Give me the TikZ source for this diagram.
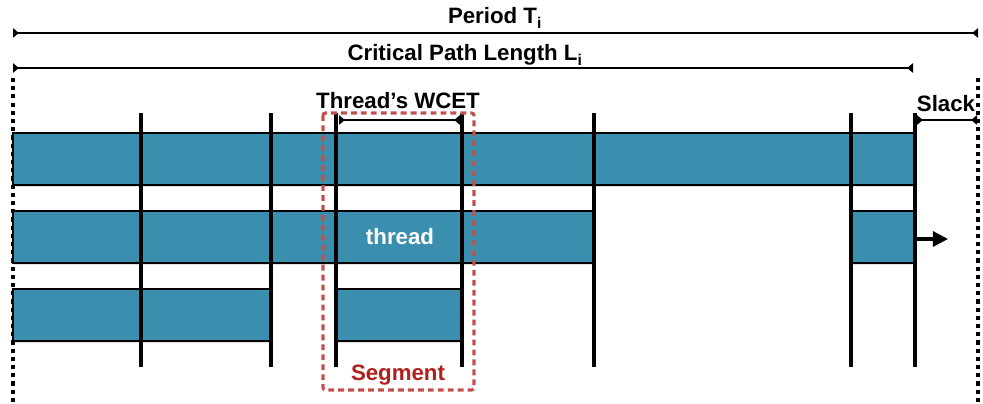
\documentclass[tikz,border=0pt]{standalone}
\usepackage{fontspec}
\setmainfont{Liberation Sans}
\definecolor{ThreadTeal}{HTML}{3A8FAE}
\definecolor{SegRed}{HTML}{C4504E}
\definecolor{SegText}{HTML}{B0201C}
\usetikzlibrary{
  arrows.meta,
  positioning,
  shadows
}

\begin{document}
\begin{tikzpicture}[
  x=0.03cm, y=-0.03cm,
  bar/.style={
    fill=ThreadTeal, draw=black, line width=1.2pt,
    drop shadow={shadow xshift=1pt, shadow yshift=-1.5pt, opacity=0.25}
  },
  txt/.style={font=\fontsize{19}{22}\selectfont\bfseries},
  span/.style={line width=1.3pt, {Triangle[reversed, length=5pt, width=8pt]}-{Triangle[reversed, length=5pt, width=8pt]}},
  segline/.style={line width=2.6pt},
  boundline/.style={line width=2.6pt, dash pattern=on 3.5pt off 3.5pt}
]
  \useasboundingbox (0,0) rectangle (983,404);

  % Period and critical path spans
  \coordinate (periodL) at (13,33);
  \coordinate (periodR) at (978,33);
  \coordinate (critL) at (13,68);
  \coordinate (critR) at (913,68);
  \draw[span] (periodL) -- (periodR);
  \draw[span] (critL) -- (critR);
  \node[txt] (period) at (495,18) {Period T\textsubscript{i}};
  \node[txt] (crit) at (465,55) {Critical Path Length L\textsubscript{i}};

  % Period boundaries (dashed)
  \coordinate (leftTop) at (13,78);
  \coordinate (leftBot) at (13,404);
  \coordinate (rightTop) at (978,78);
  \coordinate (rightBot) at (978,404);
  \draw[boundline] (leftTop) -- (leftBot);
  \draw[boundline] (rightTop) -- (rightBot);

  % Thread bars, row 1
  \filldraw[bar] (13,133) rectangle (915,185);

  % Row 2
  \filldraw[bar] (13,211) rectangle (593,263);
  \filldraw[bar] (852,211) rectangle (915,263);

  % Row 3
  \filldraw[bar] (13,289) rectangle (270,341);
  \filldraw[bar] (336,289) rectangle (462,341);

  % Segment borders
  \foreach \x in {141,271,336,462,594,851,915}
    \draw[segline] (\x,113) -- (\x,367);

  % Segment box
  \draw[SegRed, line width=2.6pt, dash pattern=on 5pt off 3.5pt, rounded corners=2pt]
    (323,113) rectangle (474,390);
  \node[txt, text=SegText] (segment) at (398,375) {Segment};

  % WCET and slack
  \coordinate (wcetL) at (339,120);
  \coordinate (wcetR) at (460,120);
  \draw[span] (wcetL) -- (wcetR);
  \node[txt] (wcet) at (398,101) {Thread’s WCET};

  \coordinate (slackL) at (917,120);
  \coordinate (slackR) at (977,120);
  \draw[span] (slackL) -- (slackR);
  \node[txt] (slack) at (946,104) {Slack};

  % Labels in bars
  \node[txt, text=white] (thread) at (400,237) {thread};

  \coordinate (contL) at (915,239);
  \coordinate (contR) at (948,239);
  \draw[line width=2.6pt, -{Triangle[length=13pt, width=13pt]}] (contL) -- (contR);
\end{tikzpicture}
\end{document}
